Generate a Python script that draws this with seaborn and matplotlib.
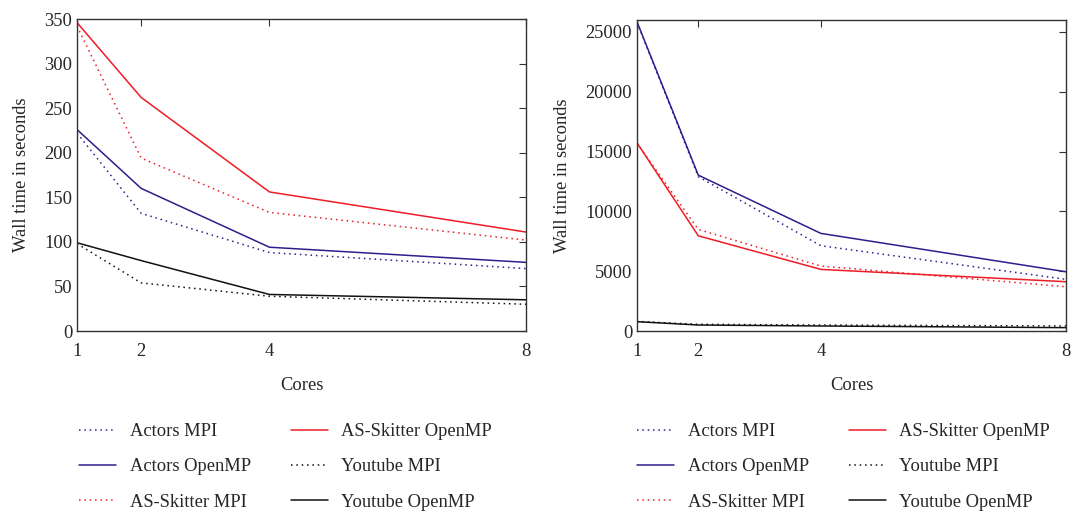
import pandas as pd
import matplotlib.pyplot as plt
import seaborn as sns

cores = [1, 2, 4, 8]
series_names = ["Actors MPI", "Actors OpenMP", "AS-Skitter MPI",
                "AS-Skitter OpenMP", "Youtube MPI", "Youtube OpenMP"]

# left panel, wall time in seconds
left_actors_mpi = [222, 132, 88, 70]
left_actors_omp = [226, 160, 94, 77]
left_skitter_mpi = [342, 194, 133, 102]
left_skitter_omp = [346, 262, 156, 111]
left_youtube_mpi = [98, 54, 39, 30]
left_youtube_omp = [99, 79, 41, 35]

# right panel, wall time in seconds
right_actors_mpi = [25800, 12900, 7130, 4320]
right_actors_omp = [25850, 13030, 8160, 4950]
right_skitter_mpi = [15700, 8490, 5430, 3700]
right_skitter_omp = [15730, 7960, 5150, 4120]
right_youtube_mpi = [800, 560, 500, 420]
right_youtube_omp = [780, 500, 420, 280]

blue = "#2d1e8c"
red = "#ee1c25"
black = "#111111"
palette = {"Actors MPI": blue, "Actors OpenMP": blue,
           "AS-Skitter MPI": red, "AS-Skitter OpenMP": red,
           "Youtube MPI": black, "Youtube OpenMP": black}
dashes = {n: ((1, 2.5) if n.endswith("MPI") else "") for n in series_names}


def to_long(cols):
    rows = []
    for name, vals in zip(series_names, cols):
        for c, v in zip(cores, vals):
            rows.append({"Cores": c, "time": v, "series": name})
    return pd.DataFrame(rows)


left_df = to_long([left_actors_mpi, left_actors_omp, left_skitter_mpi,
                   left_skitter_omp, left_youtube_mpi, left_youtube_omp])
right_df = to_long([right_actors_mpi, right_actors_omp, right_skitter_mpi,
                    right_skitter_omp, right_youtube_mpi, right_youtube_omp])

sns.set_style("white")
plt.rcParams['font.family'] = ['Liberation Serif', 'DejaVu Serif']
fs = 13.3
plt.rcParams['font.size'] = fs

fig = plt.figure(figsize=(10.73, 5.16), dpi=100)
ax1 = fig.add_axes([77 / 1073, 1 - 331 / 516, 449 / 1073, 312 / 516])
ax2 = fig.add_axes([637 / 1073, 1 - 331 / 516, 429 / 1073, 311 / 516])


def draw(ax, df, ylim, yticks, legend_x):
    sns.lineplot(data=df, x="Cores", y="time", hue="series", style="series",
                 palette=palette, dashes=dashes, hue_order=series_names,
                 style_order=series_names, linewidth=1.1, ax=ax, legend=True)
    ax.set_xlim(1, 8)
    ax.set_ylim(*ylim)
    ax.set_xticks(cores)
    ax.set_yticks(yticks)
    ax.set_xlabel("Cores", fontsize=fs, labelpad=12)
    ax.set_ylabel("Wall time in seconds", fontsize=fs, labelpad=10)
    ax.tick_params(direction="in", top=True, right=True, length=5,
                   labelsize=fs, color="#333333")
    ax.tick_params(axis="x", pad=9)
    for s in ax.spines.values():
        s.set_color("#333333")
        s.set_linewidth(1.0)
    handles, labels = ax.get_legend_handles_labels()
    ax.get_legend().remove()
    fig.legend(handles, labels, ncol=2, frameon=False,
               loc="upper left", bbox_to_anchor=(legend_x, 1 - 423 / 516),
               borderaxespad=0, borderpad=0, fontsize=fs,
               handlelength=2.0, handletextpad=0.75, labelspacing=1.0,
               columnspacing=2.15)


draw(ax1, left_df, (0, 350), range(0, 351, 50), 79 / 1073)
draw(ax2, right_df, (0, 26000), range(0, 25001, 5000), 637 / 1073)

fig.savefig("out.png", dpi=100)
